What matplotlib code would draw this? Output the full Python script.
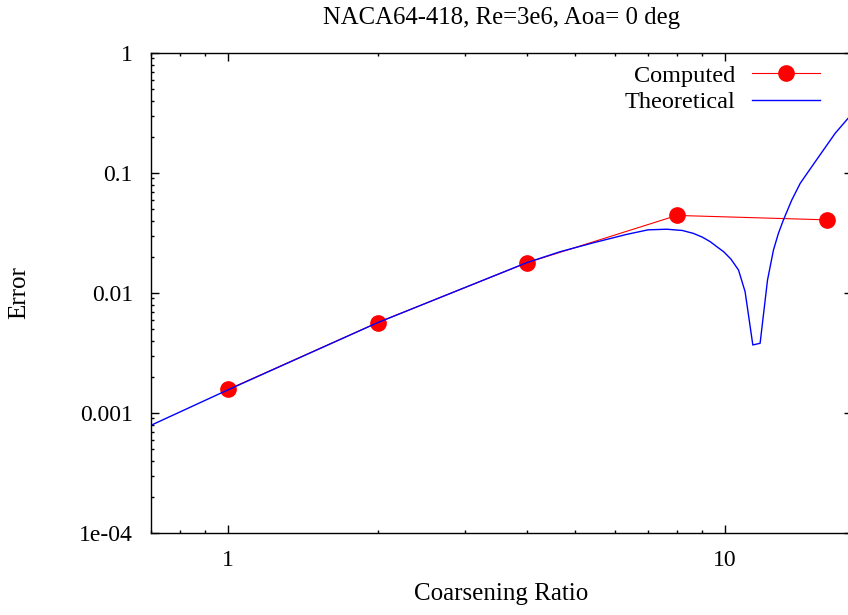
import matplotlib
matplotlib.use("Agg")
import matplotlib.pyplot as plt
from matplotlib.ticker import LogLocator, FixedLocator, FixedFormatter, NullFormatter

plt.rcParams["font.family"] = ["Liberation Serif", "DejaVu Serif"]
plt.rcParams["font.size"] = 17

# computed error vs coarsening ratio
ratio = [1, 2, 4, 8, 16]
err_computed = [0.00157, 0.00567, 0.0179, 0.0443, 0.0407]

# theoretical curve
ratio_th = [0.7, 1.0, 2.0, 3.99, 4.66, 5.43, 6.34, 7.0, 7.63, 8.2, 8.63, 9.0,
            9.33, 9.6, 9.93, 10.27, 10.64, 10.97, 11.37, 11.76, 12.17, 12.51,
            12.80, 13.10, 13.62, 14.16, 14.94, 15.77, 16.65, 17.68, 18.0]
err_th = [0.00079, 0.00156, 0.00566, 0.0179, 0.0221, 0.0262, 0.0308, 0.0336,
          0.034, 0.0332, 0.0314, 0.0292, 0.0268, 0.0245, 0.0221, 0.0192,
          0.01555, 0.01026, 0.00369, 0.00381, 0.0128, 0.0228, 0.0314, 0.0406,
          0.0596, 0.082, 0.1129, 0.1555, 0.2142, 0.286, 0.30]

yticks = [1e-4, 1e-3, 1e-2, 1e-1, 1]
ylabels = ["1e-04", "0.001", "0.01", "0.1", "1"]
xticks = [1, 10]
xlabels = ["1", "10"]

fig = plt.figure(figsize=(8.48, 6.15), dpi=100)
ax = fig.add_axes([151 / 848, 82 / 615, 701 / 848, 480 / 615])

ax.plot(ratio, err_computed, color="#ff0000", lw=0.8, marker="o", ms=11,
        label="Computed")
ax.plot(ratio_th, err_th, color="#0000ff", lw=1.0, label="Theoretical")

ax.set_xscale("log")
ax.set_yscale("log")
ax.set_xlim(0.7, 18)
ax.set_ylim(1e-4, 1)

ax.xaxis.set_major_locator(FixedLocator(xticks))
ax.xaxis.set_major_formatter(FixedFormatter(xlabels))
ax.xaxis.set_minor_locator(LogLocator(base=10, subs=range(2, 10)))
ax.xaxis.set_minor_formatter(NullFormatter())
ax.yaxis.set_major_locator(FixedLocator(yticks))
ax.yaxis.set_major_formatter(FixedFormatter(ylabels))
ax.yaxis.set_minor_locator(LogLocator(base=10, subs=range(2, 10)))
ax.yaxis.set_minor_formatter(NullFormatter())

ax.tick_params(which="both", direction="in", top=True, right=True, width=1.0)
ax.tick_params(which="major", length=5.5)
ax.tick_params(which="minor", length=2.5)
ax.tick_params(axis="y", which="major", pad=13)
ax.tick_params(axis="x", which="major", pad=12)
for s in ax.spines.values():
    s.set_linewidth(1.0)

ax.set_title("NACA64-418, Re=3e6, Aoa= 0 deg", pad=21, fontsize=17.8)
ax.set_xlabel("Coarsening Ratio", fontsize=18)
ax.set_ylabel("Error", fontsize=18)
ax.xaxis.set_label_coords(0.5, -0.105)
ax.yaxis.set_label_coords(-0.172, 0.5)

ax.legend(loc="upper right", bbox_to_anchor=(0.9857, 1.0208), frameon=False,
          markerfirst=False, handlelength=2.8, handletextpad=0.7,
          labelspacing=0.18, borderaxespad=0.5, numpoints=1, fontsize=17.5)

fig.savefig("out.png", dpi=100)
